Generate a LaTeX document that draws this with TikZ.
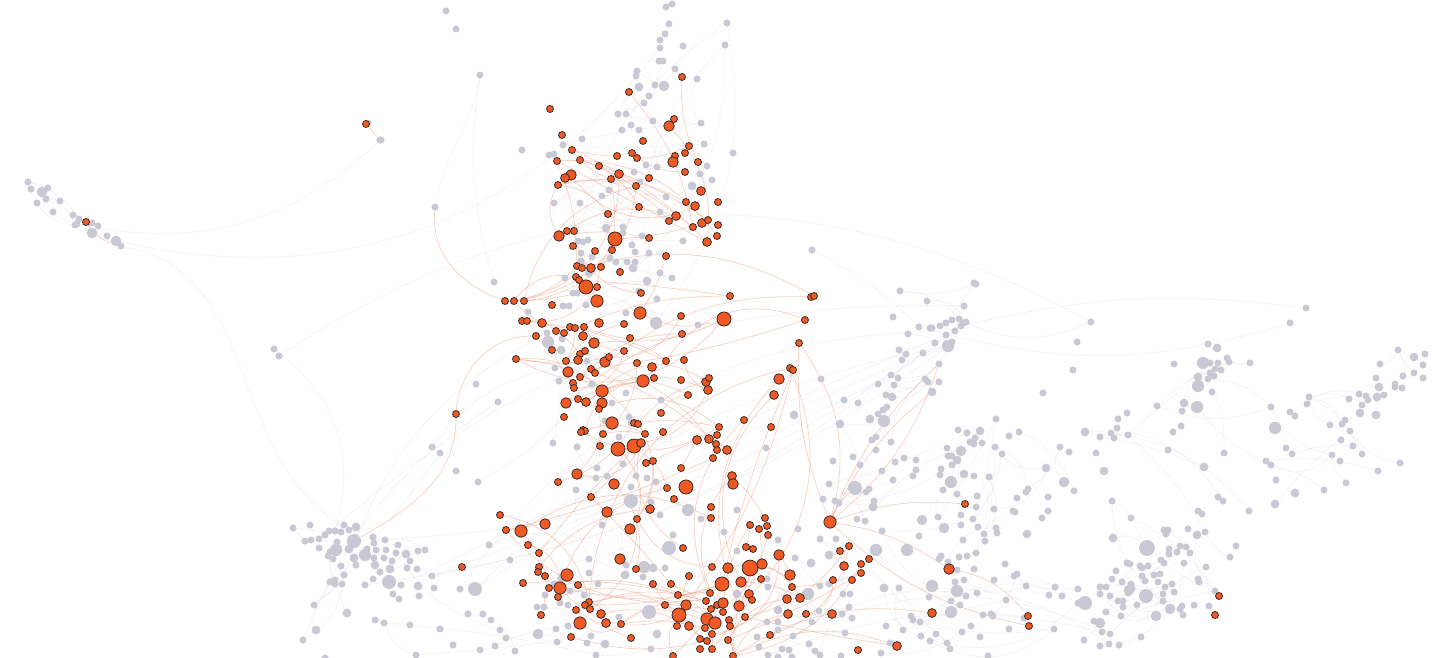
\documentclass[tikz,border=0pt]{standalone}
\usetikzlibrary{positioning,backgrounds}

\definecolor{hitfill}{HTML}{EF5A24}
\definecolor{hitring}{HTML}{3A2826}
\definecolor{restfill}{HTML}{C9C8D5}
\definecolor{hitedge}{HTML}{EFA387}
\definecolor{restedge}{HTML}{D9D9E3}

\begin{document}
\begin{tikzpicture}[x=0.02cm, y=-0.02cm,
  hit/.style={circle, draw=hitring, line width=0.45pt, fill=hitfill,
    inner sep=0pt, minimum size=#1},
  hit/.default=4pt,
  rest/.style={circle, fill=restfill, inner sep=0pt, minimum size=#1},
  rest/.default=4pt,
  hitlink/.style={draw=hitedge, line width=0.4pt, opacity=0.5},
  restlink/.style={draw=restedge, line width=0.35pt, opacity=0.32}
]
\useasboundingbox (0,0) rectangle (1440,658);

% grey nodes
\foreach \x/\y/\d [count=\i] in {
  28/182/4, 31/189/4, 42/192/6, 48/188/4, 37/203/4, 46/199/4, 60/201/4, 53/212/4, 73/215/4, 79/219/4,
  75/225/4, 77/224/4, 92/223/4, 98/226/4, 92/233/6, 107/236/4, 116/241/6,
  446/11/4, 456/29/4, 480/75/4, 368/123/4, 381/140/4, 522/150/4, 494/282/4,
  672/4/4, 666/7/4, 669/24/4, 665/34/4, 660/40/4, 660/48/4, 683/46/4, 659/61/4, 663/61/4, 675/69/4,
  637/71/4, 636/76/4, 697/79/4, 655/85/4, 664/86/6, 639/87/5, 649/96/4, 644/103/4, 618/114/4, 626/114/4,
  653/121/4, 631/125/4, 622/130/4, 639/130/4, 701/123/4, 704/144/4, 582/139/4, 563/145/4, 549/155/4, 554/154/4,
  646/165/4, 657/167/4, 634/172/4, 707/166/4, 700/174/4, 712/180/4, 692/186/5, 640/182/4, 609/190/4, 602/196/4,
  666/197/4, 554/203/4, 580/203/4, 660/212/4, 607/214/4, 606/228/5, 623/227/4, 623/233/4, 683/241/4, 642/236/4,
  578/241/4, 583/242/4, 588/240/4, 632/245/4, 635/252/4, 581/253/4, 592/257/4, 610/258/4, 616/262/4, 627/262/4,
  635/262/4, 649/253/4, 581/261/4, 633/268/5, 589/273/5, 565/278/4, 647/281/5, 672/278/4, 660/273/4, 639/291/4,
  573/293/4, 577/293/4, 563/306/4, 569/306/4, 586/305/4, 657/299/4, 528/312/4, 626/313/4, 656/323/7, 698/325/4,
  727/23/4, 725/45/4, 733/153/4, 812/250/4, 900/291/4, 927/301/4, 893/317/4, 919/327/4, 930/328/4, 940/326/4,
  946/323/4, 952/320/4, 959/319/4, 963/323/4, 966/322/4, 961/326/4, 964/306/4, 974/283/4, 976/284/4,
  1091/322/4, 1306/308/4, 1290/323/4,
  274/349/4, 279/356/4, 293/528/4, 310/525/4, 305/541/4, 311/540/4, 319/539/4, 319/548/4, 325/535/4, 329/531/4,
  335/531/4, 341/532/4, 344/525/4, 349/530/4, 356/527/5, 349/549/5, 337/542/4, 336/550/7, 330/552/4,
  328/556/4, 333/559/4, 354/558/5, 356/565/4, 341/566/4, 344/575/4, 330/582/4, 335/580/4, 335/584/4, 342/584/4,
  314/605/4, 347/613/5, 316/630/5, 303/640/4, 325/658/4,
  476/384/4, 498/402/4, 432/447/4, 440/453/4, 456/471/4, 478/482/4, 553/443/4, 559/381/4, 547/333/4, 562/339/4,
  548/342/7, 561/350/5, 555/368/4, 587/361/4, 592/384/4, 626/393/4, 661/400/4, 612/403/4, 605/421/4, 629/417/4,
  631/423/4, 619/437/4, 577/447/4, 623/464/4, 597/468/4, 607/476/4, 596/478/4, 636/476/4, 647/478/4, 656/482/4,
  631/487/4, 576/490/4, 631/501/8, 651/502/4, 688/510/7, 660/515/4, 701/519/4, 602/525/4, 673/535/4, 669/548/8,
  644/567/7, 653/568/5, 665/568/4, 626/565/4, 625/575/5, 589/559/4, 589/573/4, 598/584/4, 643/577/4, 510/560/4,
  489/545/4, 554/584/4, 561/578/4, 570/591/4, 545/595/4, 584/595/4, 568/605/4, 560/603/4, 537/607/4, 544/607/4,
  649/612/8, 619/617/4, 538/634/6, 556/629/4, 568/626/4, 657/634/5, 591/636/4, 605/644/5, 587/643/4, 557/642/4,
  651/649/4, 596/655/4, 515/651/4, 506/638/4, 495/646/4, 480/650/4, 453/645/4, 416/655/4, 440/629/4, 410/625/4,
  384/623/4, 375/620/4, 468/614/4, 483/614/4, 491/620/4, 500/630/4,
  373/537/4, 374/543/4, 367/549/4, 376/550/4, 385/540/4, 386/550/4, 365/555/7, 374/558/4, 375/565/5, 384/558/4,
  392/561/4, 396/553/4, 398/545/4, 406/554/5, 410/561/4, 418/551/4, 425/550/4, 390/569/5, 380/572/4, 389/582/8,
  373/579/4, 365/585/4, 401/585/4, 393/594/4, 399/599/4, 407/568/4, 417/569/4, 418/586/5, 419/596/4, 432/576/4,
  434/588/4, 460/589/4, 475/589/8,
  908/334/4, 948/346/7, 952/342/4, 955/331/4, 946/335/4, 935/343/4, 932/328/4, 899/350/4, 906/354/4, 902/360/4,
  923/353/4, 891/375/4, 898/378/4, 894/385/4, 886/395/4, 892/397/5, 878/384/4, 858/403/4, 844/400/4, 821/379/4,
  925/379/4, 928/382/4, 939/382/4, 887/407/4, 883/410/4, 878/414/4, 870/419/5, 884/421/7, 840/424/5, 794/415/5,
  872/440/4, 876/437/4, 876/450/4, 891/442/4, 833/461/4, 860/465/4, 853/457/4, 895/462/4, 904/458/4, 916/460/4,
  916/470/4, 913/476/4, 882/471/4, 893/480/4, 866/492/4, 869/489/4, 829/484/4, 823/499/4, 835/501/4, 839/503/4,
  874/501/4, 873/507/5, 857/519/4, 865/521/4, 737/510/4, 766/448/4, 958/430/4, 967/433/4, 975/438/4, 980/431/5,
  970/442/4, 974/444/4, 982/443/4, 947/448/4, 952/456/4, 961/451/6, 957/460/5, 948/456/4, 952/465/4, 941/469/4,
  940/475/4, 964/474/5, 974/476/4, 989/477/4, 951/482/7, 943/490/4, 957/494/4, 977/496/4, 976/507/4, 961/515/4,
  961/525/4, 973/519/4, 978/527/4, 984/534/4, 985/541/4, 922/520/6, 938/517/4, 944/528/6, 919/536/4, 963/540/4,
  996/419/4, 1009/436/4, 1019/432/4, 995/447/4, 1002/454/4, 1060/447/4, 1069/452/4, 1043/393/4, 1046/468/5, 1064/482/6,
  1074/491/4, 1077/342/4, 1073/370/4, 1026/492/4, 1028/489/4, 1017/498/4, 1048/497/4, 994/509/4, 1013/511/4, 1015/512/4,
  1042/518/4, 1048/511/4, 996/528/4, 997/533/4, 1027/534/5, 876/550/7, 907/550/7, 882/531/4, 939/559/4, 941/556/4,
  948/562/4, 959/557/4, 967/556/4, 976/553/4, 957/570/4, 974/569/4, 964/580/4, 955/582/4, 957/591/7, 966/596/4,
  951/601/4, 960/605/4, 932/586/7, 929/597/4, 951/612/7, 977/593/4, 1005/564/4, 1014/576/4, 1017/574/4, 994/580/4,
  1026/586/4, 1006/600/4, 1049/595/4, 1055/587/4, 1062/596/4, 1078/589/4, 983/615/4, 991/614/4, 993/616/4, 1009/629/4,
  1024/618/4, 1054/629/4, 1078/603/4, 884/588/5, 899/588/4, 903/630/4, 886/626/4, 911/616/4, 913/620/4, 920/622/4,
  930/641/4, 921/636/4, 936/634/4, 947/643/4, 950/649/4, 980/637/4, 988/656/4, 971/626/4, 962/632/4, 890/643/4,
  881/653/4, 841/656/4, 836/539/4, 820/539/4, 829/555/5, 798/529/4, 778/540/4, 795/558/4, 811/563/5, 820/586/4,
  829/584/4, 808/594/7, 819/611/4, 849/607/4, 850/594/4, 843/594/4, 842/614/4, 852/618/4, 812/622/4, 778/610/5,
  778/630/4, 767/622/4, 782/649/4, 809/644/4, 845/633/4, 815/651/4, 820/655/4, 724/532/4, 737/551/4, 767/579/4,
  768/587/4, 737/594/5, 778/622/4, 757/637/4, 793/636/4, 759/647/4, 768/655/4, 789/650/4, 792/657/4, 778/657/4,
  1084/640/4, 1100/646/4, 1109/644/4, 1119/645/4, 1102/632/4, 1110/634/4, 1141/637/4, 1094/621/4, 1100/623/6,
  1169/549/4, 1169/554/4, 1177/552/4, 1180/546/4, 1186/547/4, 1190/553/4, 1184/563/4, 1206/567/4, 1161/560/4, 1164/563/4,
  1148/566/4, 1140/566/4, 1142/568/4, 1127/563/4, 1130/564/4, 1116/571/4, 1112/579/4, 1122/582/4, 1131/584/4, 1132/588/4,
  1142/576/4, 1145/581/4, 1154/575/4, 1160/574/4, 1158/582/4, 1165/587/4, 1172/584/4, 1174/592/4, 1163/594/4, 1146/596/8,
  1129/590/6, 1128/593/4, 1118/601/4, 1123/601/4, 1123/607/4, 1110/596/4, 1106/587/4, 1100/587/4, 1100/594/4, 1085/603/8,
  1106/612/4, 1121/616/4, 1137/605/4, 1163/601/4, 1170/609/6, 1156/616/6, 1180/609/4, 1182/606/4, 1183/615/4, 1194/605/4,
  1209/606/4, 1198/579/4, 1199/582/4, 1215/591/4,
  1112/501/4, 1131/518/4, 1113/538/5, 1147/548/9, 1164/530/4, 1168/530/4, 1166/534/4, 1188/529/4, 1197/535/5, 1205/532/4,
  1198/511/4, 1202/514/4, 1218/497/4, 1223/501/4, 1236/546/4, 1230/557/4, 1249/511/4,
  1118/419/4, 1127/413/4, 1117/428/4, 1111/433/4, 1114/438/4, 1128/435/4, 1100/437/4, 1085/432/5, 1096/453/4, 1104/471/5,
  1168/450/4, 1204/467/5, 1224/453/4,
  1208/344/4, 1217/348/5, 1174/364/4, 1203/363/7, 1210/363/4, 1218/363/4, 1227/358/4, 1229/362/4, 1250/363/4, 1215/369/4,
  1221/370/4, 1210/373/4, 1214/376/4, 1208/379/4, 1198/377/5, 1198/386/7, 1212/392/4, 1184/403/5, 1197/407/7, 1157/406/4,
  1182/411/4, 1181/426/4, 1173/432/4,
  1275/428/7, 1271/407/4, 1290/412/4, 1295/416/4, 1286/448/4, 1292/454/4, 1266/461/4, 1271/465/4, 1276/480/4, 1295/493/5,
  1275/504/5, 1324/490/4, 1346/483/4, 1378/471/4, 1400/463/4, 1332/455/4, 1340/461/4, 1341/440/4, 1353/446/4, 1362/454/4,
  1330/425/4, 1342/424/4, 1345/420/4, 1350/431/4, 1360/413/5, 1362/405/4, 1376/415/5, 1349/399/4, 1359/394/4, 1366/396/4,
  1368/400/4, 1377/397/5, 1384/395/4, 1307/404/4, 1309/397/4, 1376/378/4, 1379/387/5, 1380/364/4, 1395/384/4, 1395/387/4,
  1402/388/4, 1403/376/4, 1414/373/4, 1423/378/4, 1423/365/4, 1414/357/5, 1425/354/4, 1398/350/4}
{
  \node[rest=\d pt] (g\i) at (\x,\y) {};
  \xdef\nrest{\i}
}

% highlighted nodes
\foreach \x/\y/\d [count=\i] in {
  550/109/4, 682/77/4, 629/92/4, 669/126/6, 674/119/4, 643/141/4, 689/146/4, 685/153/4, 675/156/4,
  673/162/6, 698/162/4, 685/172/4, 701/191/5, 695/206/5, 686/202/4, 718/202/4, 676/216/5, 669/221/4, 693/227/4,
  702/223/5, 708/220/4, 718/225/4, 707/242/5, 717/236/4, 562/135/4, 572/150/4, 580/160/4, 557/161/4, 571/175/6,
  565/178/5, 558/185/4, 599/166/4, 617/156/4, 619/174/5, 611/179/4, 632/153/4, 637/158/4, 649/178/4, 636/186/4,
  639/207/4, 608/214/4, 559/236/6, 567/231/4, 574/231/4, 573/246/4, 615/239/8, 612/250/4, 649/238/4, 666/256/4,
  595/251/4, 577/266/4, 582/268/4, 591/268/5, 601/267/4, 620/272/4, 576/277/4, 579/280/4, 597/287/4, 586/287/8,
  597/301/7, 641/293/4, 640/313/7, 681/316/4, 514/301/4, 524/301/4, 552/305/4, 522/321/4, 527/321/4,
  542/323/5, 570/327/4, 584/327/4, 599/323/5, 624/324/4, 730/296/4, 811/297/4, 814/296/4, 724/319/8, 805/320/4,
  556/331/4, 564/333/4, 583/336/5, 575/328/4, 594/343/6, 552/350/4, 580/354/4, 585/351/4, 566/361/4,
  578/360/5, 605/362/6, 609/357/4, 630/338/4, 624/351/4, 637/363/4, 652/367/5, 666/361/4, 684/360/4, 682/334/4,
  516/359/4, 568/372/6, 580/377/4, 591/369/4, 595/373/4, 643/381/7, 654/378/4, 681/380/4, 706/382/5, 709/378/4,
  708/390/5, 573/383/4, 574/388/4, 602/391/7, 566/403/6, 578/399/4, 586/402/5, 602/403/6, 599/409/4, 688/395/4,
  564/417/4, 612/423/7, 583/430/4, 585/431/4, 581/432/4, 603/434/4, 634/423/4, 638/424/4, 645/434/4,
  663/432/4, 661/413/4, 697/440/5, 709/439/5, 717/435/4, 716/444/4, 717/450/4, 719/427/4, 600/446/4, 618/449/8,
  634/446/8, 641/443/5, 646/463/4, 653/461/4, 681/468/4, 713/458/4, 577/474/6, 558/482/4, 614/484/6, 667/488/4,
  686/487/8, 591/497/4, 674/499/4, 650/509/5, 711/507/4, 711/518/4, 607/512/6, 637/519/4, 500/515/4, 506/530/4,
  521/531/7, 545/524/6, 630/529/6, 528/545/4, 539/553/4, 683/548/4, 620/559/6, 636/569/4, 712/567/4, 462/567/4,
  539/567/4, 538/572/4, 545/576/4, 567/575/7, 578/585/4, 560/588/7, 549/588/4, 558/597/4, 523/583/4, 653/584/4,
  671/584/4, 689/576/4, 722/584/8, 589/602/4, 585/605/4, 590/609/4, 576/610/4, 541/615/4, 601/614/5, 580/623/7,
  606/623/5, 621/624/4, 665/605/4, 678/595/4, 686/605/6, 679/615/8, 677/626/4, 689/626/5, 707/619/7, 715/623/7,
  710/593/4, 706/601/4, 711/609/4, 717/605/4, 705/628/4, 712/634/4, 700/639/4, 707/641/4, 712/649/4, 700/649/4,
  631/638/4, 571/637/4, 673/656/4,
  790/368/4, 793/370/4, 779/379/6, 774/395/5, 744/420/4, 771/427/4, 727/450/5, 732/476/5, 733/484/6,
  750/525/4, 759/529/4, 765/518/4, 767/526/4, 768/535/4, 746/547/4, 753/549/4, 779/555/6, 728/568/6, 750/568/9,
  762/564/6, 741/582/6, 761/579/4, 790/575/6, 792/587/4, 749/594/5, 752/600/4, 787/599/5, 800/598/5, 723/603/6,
  739/606/6, 723/612/4, 745/617/4, 788/614/5, 806/614/4, 832/614/5, 840/551/4, 849/546/4, 844/566/5, 833/580/4,
  852/580/4, 861/564/4, 861/573/4, 869/559/4, 932/613/5, 729/620/4, 730/626/4,
  770/635/4, 728/640/4, 897/646/5, 858/650/4, 733/656/4}
{
  \node[hit=\d pt] (o\i) at (\x,\y) {};
  \xdef\nhit{\i}
}

% nodes with their own links
\node[hit] (lone) at (366,124) {};
\node[rest] (lonetip) at (380,140) {};
\node[hit] (west) at (86,222) {};
\node[rest] (westtip) at (121,246) {};
\node[rest] (stem) at (435,207) {};
\node[hit] (stemfoot) at (505,301) {};
\node[hit] (loop) at (456,414) {};
\node[hit] (loopend) at (536,336) {};
\node[rest=8pt] (loopbase) at (354,541) {};
\node[hit=7pt] (fan) at (830,522) {};
\node[rest=8pt] (fanhub) at (855,488) {};
\node[hit] (fantop) at (799,343) {};
\node[rest=5pt] (fanright) at (932,392) {};
\node[rest] (fanfar) at (939,364) {};
\node[hit=6pt] (fanlow) at (949,569) {};
\node[hit] (fanedge) at (965,504) {};
\node[hit] (eastup) at (1028,616) {};
\node[hit] (eastdown) at (1029,626) {};
\node[hit] (farup) at (1219,596) {};
\node[hit] (fardown) at (1215,615) {};

\begin{pgfonlayer}{background}
  \fill[white] (0,0) rectangle (1440,658);
  \pgfmathsetseed{17}
  \foreach \k in {1,...,320}{
    \pgfmathtruncatemacro{\a}{random(1,\nrest-1)}
    \pgfmathtruncatemacro{\b}{min(\nrest,\a+random(1,14))}
    \pgfmathtruncatemacro{\bnd}{random(-35,35)}
    \draw[restlink] (g\a) to[bend left=\bnd] (g\b);
  }
  \foreach \k in {1,...,170}{
    \pgfmathtruncatemacro{\a}{random(1,\nhit-1)}
    \pgfmathtruncatemacro{\b}{min(\nhit,\a+random(2,30))}
    \pgfmathtruncatemacro{\bnd}{random(-40,40)}
    \draw[hitlink] (o\a) to[bend left=\bnd] (o\b);
  }
  \draw[hitlink] (lone) -- (lonetip);
  \draw[hitlink] (west) to[bend right=20] (westtip);
  \draw[restlink] (westtip) to[out=-10,in=150] (g140);
  \draw[hitlink] (stem) to[out=-95,in=160] (stemfoot);
  \draw[restlink] (stem) to[out=80,in=-100] (g20);
  \draw[hitlink] (loop) to[out=85,in=180] (loopend);
  \draw[hitlink] (loop) to[out=-90,in=30] (loopbase);
  \foreach \t in {fanhub,fantop,fanright,fanfar,fanlow,fanedge}
    \draw[hitlink] (fan) to[bend left=12] (\t);
  \draw[hitlink] (fan) to[bend right=25] (fantop);
  \draw[hitlink] (fan) to[bend right=15] (fanfar);
  \draw[hitlink] (fanlow) to[bend left=20] (eastup);
  \draw[hitlink] (fan) to[bend right=15] (eastdown);
  \draw[restlink] (farup) to[bend left=10] (fardown);
\end{pgfonlayer}
\end{tikzpicture}
\end{document}
